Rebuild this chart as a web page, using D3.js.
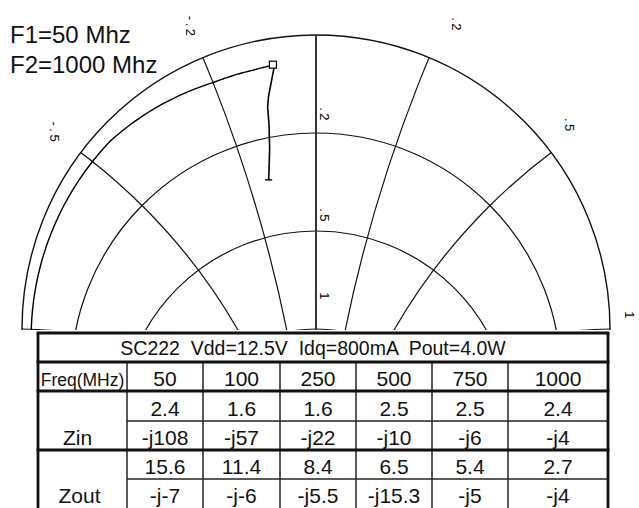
<!DOCTYPE html>
<html><head><meta charset="utf-8">
<script src="https://cdn.jsdelivr.net/npm/d3@7"></script>
<style>html,body{margin:0;padding:0;background:#fff;} svg{display:block;font-family:"Liberation Sans",Arial,sans-serif;} text{white-space:pre;}</style>
</head><body><svg id="chart" width="639" height="508"></svg>
<script>
// ---- data ----
const freqs = [50, 100, 250, 500, 750, 1000];
const zinR = [2.4, 1.6, 1.6, 2.5, 2.5, 2.4];
const zinX = [-108, -57, -22, -10, -6, -4];
const zoutR = [15.6, 11.4, 8.4, 6.5, 5.4, 2.7];
const zoutX = [-7, -6, -5.5, -5.3, -5, -4];          // as plotted on the chart
const zinXText = ["-j108", "-j57", "-j22", "-j10", "-j6", "-j4"];
const zoutXText = ["-j-7", "-j-6", "-j5.5", "-j15.3", "-j5", "-j4"];
const resistanceCircles = [0.2, 0.5, 1];
const reactanceArcs = [-1, -0.5, -0.2, 0.2, 0.5, 1];
const reactanceLabels = [-0.5, -0.2, 0.2, 0.5, 1];
const z0 = 50;
const titleText = "SC222  Vdd=12.5V  Idq=800mA  Pout=4.0W";
const freqHeader = "Freq(MHz)";
const rowNames = ["Zin", "Zout"];
const f1Label = "F1=50 Mhz", f2Label = "F2=1000 Mhz";

// ---- layout ----
const W = 639, H = 508;
const cx = 316, cy = 329, R = 294;
const svg = d3.select("#chart");
const sx = d3.scaleLinear().domain([-1, 1]).range([cx - R, cx + R]); // Im(Gamma) -> x
const sy = d3.scaleLinear().domain([-1, 1]).range([cy - R, cy + R]); // Re(Gamma) -> y
const gamma = (r, x) => { const d = (r + 1) ** 2 + x * x; return [(r * r + x * x - 1) / d, 2 * x / d]; };
const toXY = (r, x) => { const g = gamma(r, x); return [sx(g[1]), sy(g[0])]; };

const defs = svg.append("defs");
defs.append("clipPath").attr("id", "half").append("rect").attr("x", 0).attr("y", 0).attr("width", W).attr("height", cy + 1);
defs.append("clipPath").attr("id", "disc").append("circle").attr("cx", cx).attr("cy", cy).attr("r", R);

const chart = svg.append("g").attr("clip-path", "url(#half)");
const inner = chart.append("g").attr("clip-path", "url(#disc)");
const lineColor = "#111";

// resistance circles
inner.selectAll("circle.res").data(resistanceCircles).join("circle").attr("class", "res")
  .attr("cx", sx(0)).attr("cy", d => sy(d / (1 + d))).attr("r", d => sx(1 / (1 + d)) - sx(0))
  .attr("fill", "none").attr("stroke", lineColor).attr("stroke-width", 1.2);
// reactance arcs
inner.selectAll("circle.reac").data(reactanceArcs).join("circle").attr("class", "reac")
  .attr("cx", d => sx(1 / d)).attr("cy", sy(1)).attr("r", d => sx(1 / Math.abs(d)) - sx(0))
  .attr("fill", "none").attr("stroke", lineColor).attr("stroke-width", 1.2);
// outer circle
chart.append("circle").attr("cx", cx).attr("cy", cy).attr("r", R)
  .attr("fill", "none").attr("stroke", lineColor).attr("stroke-width", 1.4);
// real axis
chart.append("line").attr("x1", sx(0)).attr("x2", sx(0)).attr("y1", sy(-1)).attr("y2", sy(1))
  .attr("stroke", "#333").attr("stroke-width", 2);

// reactance labels (rotated)
const fmt = v => (v < 0 ? "-" : "") + String(Math.abs(v)).replace(/^0\./, ".");
const kLab = 327 / 294;
const labelNudge = {"-0.5": [0, 0], "-0.2": [0, 0], "0.2": [15, -2], "0.5": [-8, -7], "1": [-13, -13]};
svg.selectAll("text.xl").data(reactanceLabels).join("text").attr("class", "xl")
  .attr("transform", d => { const g = gamma(0, d), n = labelNudge[String(d)];
    return `translate(${sx(g[1] * kLab) + n[0]},${sy(g[0] * kLab) + n[1]}) rotate(90)`; })
  .attr("text-anchor", "middle").attr("dy", "0.35em")
  .attr("font-size", 13).attr("letter-spacing", 2.5).attr("fill", "#000").text(fmt);
// resistance labels on the axis
const rLabOff = {0.2: 10, 0.5: 7, 1: 27};
chart.selectAll("text.rl").data(resistanceCircles).join("text").attr("class", "rl")
  .attr("transform", d => `translate(${sx(0) + 9},${sy((d - 1) / (d + 1)) - rLabOff[d]}) rotate(90)`)
  .attr("text-anchor", "end").attr("dy", "0.35em")
  .attr("font-size", 13).attr("letter-spacing", 2.5).attr("fill", "#000").text(fmt);

// traces: Zin drawn as straight lines in the impedance plane, Zout point to point
function tracePath(rs, xs) {
  const pts = [];
  for (let i = 0; i < rs.length - 1; i++) {
    const n = 24;
    for (let k = 0; k <= n; k++) {
      const t = k / n;
      const r = (rs[i] + (rs[i + 1] - rs[i]) * t) / z0, x = (xs[i] + (xs[i + 1] - xs[i]) * t) / z0;
      pts.push(toXY(r, x));
    }
  }
  return d3.line()(pts);
}
chart.append("path").attr("d", tracePath(zinR, zinX)).attr("fill", "none").attr("stroke", "#000").attr("stroke-width", 1.4);
chart.append("path").attr("d", d3.line()(zoutR.map((r, i) => toXY(r / z0, zoutX[i] / z0))))
  .attr("fill", "none").attr("stroke", "#000").attr("stroke-width", 1.6);
// markers: square at F2, tick at F1
const last = freqs.length - 1;
{
  const p = toXY(zinR[last] / z0, zinX[last] / z0);
  chart.append("rect").attr("x", p[0] - 4).attr("y", p[1] - 4).attr("width", 7).attr("height", 7)
    .attr("fill", "#fff").attr("stroke", "#000").attr("stroke-width", 1.2);
}
[[zinR, zinX], [zoutR, zoutX]].forEach(([rs, xs]) => {
  const p = toXY(rs[0] / z0, xs[0] / z0);
  chart.append("line").attr("x1", p[0] - 3.5).attr("x2", p[0] + 3.5).attr("y1", p[1]).attr("y2", p[1])
    .attr("stroke", "#000").attr("stroke-width", 1.4);
});

// frequency labels
svg.append("text").attr("x", 10).attr("y", 43).attr("font-size", 24).attr("fill", "#111").text(f1Label);
svg.append("text").attr("x", 10).attr("y", 73).attr("font-size", 24).attr("fill", "#111").text(f2Label);

// ---- table ----
const colEdges = [38, 127, 203, 280, 356, 432, 508, 608];
const rowEdges = [333, 362, 391, 421, 450, 479, 508];
const tbl = svg.append("g");
tbl.append("rect").attr("x", colEdges[0]).attr("y", rowEdges[0]).attr("width", colEdges[7] - colEdges[0]).attr("height", H - rowEdges[0])
  .attr("fill", "#fff");
const colMid = i => (colEdges[i] + colEdges[i + 1]) / 2;
for (let i = 1; i < colEdges.length - 1; i++)
  tbl.append("line").attr("x1", colEdges[i]).attr("x2", colEdges[i]).attr("y1", rowEdges[1]).attr("y2", H).attr("stroke", "#222").attr("stroke-width", 1.5);
[3, 5].forEach(j => tbl.append("line").attr("x1", colEdges[1]).attr("x2", colEdges[7]).attr("y1", rowEdges[j]).attr("y2", rowEdges[j]).attr("stroke", "#222").attr("stroke-width", 1.3));
[0, 1, 2, 4].forEach(j => tbl.append("line").attr("x1", colEdges[0] - 1.4).attr("x2", colEdges[7] + 1.4).attr("y1", rowEdges[j]).attr("y2", rowEdges[j]).attr("stroke", "#111").attr("stroke-width", 2.8));
[0, 7].forEach(i => tbl.append("line").attr("x1", colEdges[i]).attr("x2", colEdges[i]).attr("y1", rowEdges[0]).attr("y2", H).attr("stroke", "#111").attr("stroke-width", 2.8));

const txt = (x, y, s, size) => tbl.append("text").attr("x", x).attr("y", y).attr("text-anchor", "middle").attr("font-size", size).attr("fill", "#111").text(s);
txt(313, 355, titleText, 19.5);
txt(colMid(0), 386, freqHeader, 17.5);
const f1 = d3.format(".1f");
freqs.forEach((f, i) => {
  txt(colMid(i + 1), 386, f, 21);
  txt(colMid(i + 1), 416, f1(zinR[i]), 21);
  txt(colMid(i + 1), 445, zinXText[i], 21);
  txt(colMid(i + 1), 474, f1(zoutR[i]), 21);
  txt(colMid(i + 1), 503, zoutXText[i], 21);
});
txt(colMid(0) - 5, 445, rowNames[0], 21);
txt(colMid(0) - 3, 503, rowNames[1], 21);
</script></body></html>
